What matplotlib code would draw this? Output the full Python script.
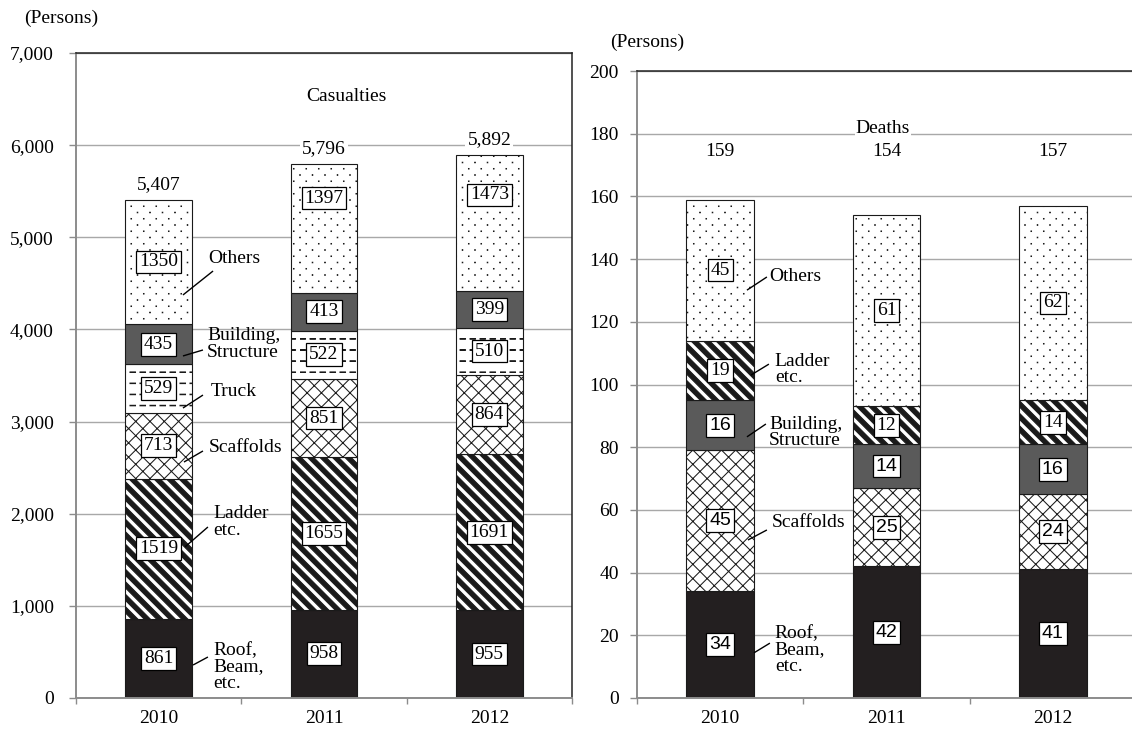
import numpy as np
import matplotlib
matplotlib.use("Agg")
import matplotlib.pyplot as plt
from matplotlib import hatch as mhatch
from matplotlib.path import Path

# ---------------------------------------------------------------- data
years = ["2010", "2011", "2012"]

# Casualties by cause (persons)
cas_roof = [861, 958, 955]
cas_ladder = [1519, 1655, 1691]
cas_scaffolds = [713, 851, 864]
cas_truck = [529, 522, 510]
cas_building = [435, 413, 399]
cas_others = [1350, 1397, 1473]

# Deaths by cause (persons)
dea_roof = [34, 42, 41]
dea_scaffolds = [45, 25, 24]
dea_building = [16, 14, 16]
dea_ladder = [19, 12, 14]
dea_others = [45, 61, 62]

# ---------------------------------------------------------------- fill patterns
MOVE, LINE, CLOSE = Path.MOVETO, Path.LINETO, Path.CLOSEPOLY


def _poly(pts):
    return list(pts) + [pts[0]], [MOVE] + [LINE] * (len(pts) - 1) + [CLOSE]


def _seg(p, q):
    return [p, q], [MOVE, LINE]


class _TilePattern(mhatch.HatchPatternBase):
    symbol = None

    def __init__(self, hatch, density):
        verts, codes = [], []
        if hatch and self.symbol in hatch:
            for v, c in self.shapes():
                verts += v
                codes += c
        self._verts = np.array(verts, float).reshape(-1, 2)
        self._codes = np.array(codes, dtype=Path.code_type)
        self.num_vertices = len(self._verts)

    def shapes(self):
        return []

    def set_vertices_and_codes(self, vertices, codes):
        vertices[:] = self._verts
        codes[:] = self._codes


class BoldStripes(_TilePattern):
    """Thick stripes running from upper left to lower right."""
    symbol = "\\"
    per_tile = 8
    fill = 0.5

    def shapes(self):
        m, w = self.per_tile, self.fill / self.per_tile
        out = []
        for k in range(-3, 2 * m + 3):
            c = k / m
            out.append(_poly([(-0.3, c + 0.3), (1.3, c - 1.3),
                              (1.3, c - 1.3 + w), (-0.3, c + 0.3 + w)]))
        return out


class CrossLines(_TilePattern):
    """Thin diagonal lattice."""
    symbol = "x"
    per_tile = 7

    def shapes(self):
        m = self.per_tile
        out = []
        for k in range(-3 * m, 3 * m + 1):
            c = k / m
            out.append(_seg((-1.0, c + 1.0), (2.0, c - 2.0)))
            out.append(_seg((-1.0, c - 1.0), (2.0, c + 2.0)))
        return out


class DashedRows(_TilePattern):
    """Horizontal dashed lines."""
    symbol = "-"
    rows, dashes, dash, thick = 9, 10, 0.55, 0.005

    def shapes(self):
        out = []
        for i in range(self.rows):
            y = (i + 0.5) / self.rows
            for j in range(self.dashes):
                x0 = j / self.dashes
                x1 = x0 + self.dash / self.dashes
                t = self.thick / 2
                out.append(_poly([(x0, y - t), (x1, y - t), (x1, y + t), (x0, y + t)]))
        return out


class SparseDots(_TilePattern):
    """Staggered grid of small dots."""
    symbol = "."
    rows, cols, size = 16, 8, 0.005

    def shapes(self):
        out = []
        s = self.size / 2
        for i in range(self.rows + 1):
            y = i / self.rows
            if i % 2:
                xs = [(j + 0.5) / self.cols for j in range(self.cols)]
            else:
                xs = [j / self.cols for j in range(self.cols + 1)]
            for x in xs:
                out.append(_poly([(x - s, y - s), (x + s, y - s), (x + s, y + s), (x - s, y + s)]))
        return out


mhatch._hatch_types[:] = [BoldStripes, CrossLines, DashedRows, SparseDots]

# ---------------------------------------------------------------- style
plt.rcParams["font.family"] = ["Liberation Serif", "DejaVu Serif"]
plt.rcParams["hatch.linewidth"] = 0.75
plt.rcParams["hatch.color"] = "#1a1a1a"

SERIF = ["Liberation Serif", "DejaVu Serif"]
SANS = ["Liberation Sans", "DejaVu Sans"]
FS = 14
EDGE = "#1a1a1a"
AXIS_GRAY = "#8c8c8c"
GRID_GRAY = "#a8a8a8"

styles = {
    "roof": dict(color="#231f20", hatch=None),
    "ladder": dict(color="white", hatch="\\"),
    "scaffolds": dict(color="white", hatch="x"),
    "truck": dict(color="white", hatch="-"),
    "building": dict(color="#5a5a5a", hatch=None),
    "others": dict(color="white", hatch="."),
}

W, H = 1132, 731
fig = plt.figure(figsize=(W / 100, H / 100), dpi=100)


def px_axes(left, right, top, bottom):
    return fig.add_axes([left / W, 1 - bottom / H, (right - left) / W, (bottom - top) / H])


ax1 = px_axes(76, 572, 53, 698)
ax2 = px_axes(637, 1136, 71, 698)

x = np.arange(len(years))
BAR_W = 0.405


def stacked(ax, layers, label_fonts, label_frac):
    bottom = np.zeros(len(years))
    for key, vals in layers:
        vals = np.asarray(vals, float)
        st = styles[key]
        ax.bar(x, vals, BAR_W, bottom=bottom, color=st["color"], hatch=st["hatch"],
               edgecolor=EDGE, linewidth=0.8, zorder=2)
        for i, v in enumerate(vals):
            frac = label_frac.get((key, i), 0.5)
            ax.text(x[i], bottom[i] + v * frac, f"{int(v)}", ha="center", va="center",
                    fontsize=FS, family=label_fonts.get(key, SERIF), zorder=5,
                    bbox=dict(boxstyle="square,pad=0.15", fc="white", ec="black", lw=0.9))
        bottom += vals
    return bottom


def frame(ax, ymax, step, fmt):
    ax.set_xlim(-0.5, 2.5)
    ax.set_ylim(0, ymax)
    ax.set_yticks(np.arange(0, ymax + 1, step))
    ax.yaxis.set_major_formatter(plt.FuncFormatter(fmt))
    ax.set_xticks(x)
    ax.set_xticklabels(years, fontsize=FS)
    ax.set_xticks([-0.5, 0.5, 1.5, 2.5], minor=True)
    ax.tick_params(axis="x", which="major", length=0, pad=8.5)
    ax.tick_params(axis="x", which="minor", length=4, width=1, color=AXIS_GRAY, direction="out")
    ax.tick_params(axis="y", length=5, width=1, color=AXIS_GRAY, direction="out", labelsize=FS)
    ax.yaxis.grid(True, color=GRID_GRAY, lw=1.0)
    ax.set_axisbelow(True)
    for s in ("left", "bottom"):
        ax.spines[s].set_color(AXIS_GRAY)
        ax.spines[s].set_linewidth(1.4)
    for s in ("top", "right"):
        ax.spines[s].set_color("#222222")
        ax.spines[s].set_linewidth(1.1)


def callouts(ax, items):
    for text, (x0, y0), (x1, y1), (tx, ty) in items:
        ax.plot([x0, x1], [y0, y1], color="black", lw=1.0, zorder=6, solid_capstyle="butt")
        ax.text(tx, ty, text, ha="left", va="center", fontsize=FS, linespacing=0.95, zorder=6)


# ---------------------------------------------------------------- casualties
cas_layers = [("roof", cas_roof), ("ladder", cas_ladder), ("scaffolds", cas_scaffolds),
              ("truck", cas_truck), ("building", cas_building), ("others", cas_others)]
cas_total = stacked(ax1, cas_layers, {}, {("others", 1): 0.735, ("others", 2): 0.706})
frame(ax1, 7000, 1000, lambda v, p: f"{int(v):,}")
ax1.tick_params(axis="y", pad=11)
for i, t in enumerate(cas_total):
    ax1.annotate(f"{int(t):,}", xy=(x[i], t), xytext=(0, 5), textcoords="offset points",
                 ha="center", va="bottom", fontsize=FS,
                 bbox=dict(boxstyle="square,pad=0.1", fc="white", ec="none"))
ax1.text(0.546, 0.932, "Casualties", transform=ax1.transAxes, ha="center", va="center", fontsize=FS)

callouts(ax1, [
    ("Others", (0.147, 4374), (0.329, 4634), (0.298, 4775)),
    ("Building,\nStructure", (0.147, 3712), (0.268, 3777), (0.292, 3842)),
    ("Truck", (0.147, 3147), (0.268, 3288), (0.317, 3321)),
    ("Scaffolds", (0.153, 2561), (0.268, 2681), (0.304, 2724)),
    ("Ladder\netc.", (0.159, 1639), (0.298, 1856), (0.329, 1910)),
    ("Roof,\nBeam,\netc.", (0.208, 358), (0.298, 445), (0.329, 336)),
])

# ---------------------------------------------------------------- deaths
dea_layers = [("roof", dea_roof), ("scaffolds", dea_scaffolds), ("building", dea_building),
              ("ladder", dea_ladder), ("others", dea_others)]
dea_total = stacked(ax2, dea_layers, {"roof": SANS, "scaffolds": SANS, "building": SANS}, {})
frame(ax2, 200, 20, lambda v, p: f"{int(v)}")
ax2.tick_params(axis="y", pad=8)
for i, t in enumerate(dea_total):
    ax2.text(x[i], 174.3, f"{int(t)}", ha="center", va="center", fontsize=FS)
ax2.text(0.493, 0.908, "Deaths", transform=ax2.transAxes, ha="center", va="center", fontsize=FS,
         bbox=dict(boxstyle="square,pad=0.05", fc="white", ec="none"))

callouts(ax2, [
    ("Others", (0.161, 130.1), (0.281, 134.3), (0.293, 134.6)),
    ("Ladder\netc.", (0.185, 103.0), (0.293, 106.5), (0.329, 104.8)),
    ("Building,\nStructure", (0.161, 83.3), (0.275, 87.4), (0.293, 84.7)),
    ("Scaffolds", (0.167, 50.4), (0.281, 53.6), (0.311, 56.0)),
    ("Roof,\nBeam,\netc.", (0.203, 14.4), (0.299, 17.5), (0.329, 15.3)),
])

# unit captions
fig.text(61 / W, 1 - 18 / H, "(Persons)", ha="center", va="center", fontsize=FS)
fig.text(647 / W, 1 - 42 / H, "(Persons)", ha="center", va="center", fontsize=FS)

fig.savefig("out.png", dpi=100)
